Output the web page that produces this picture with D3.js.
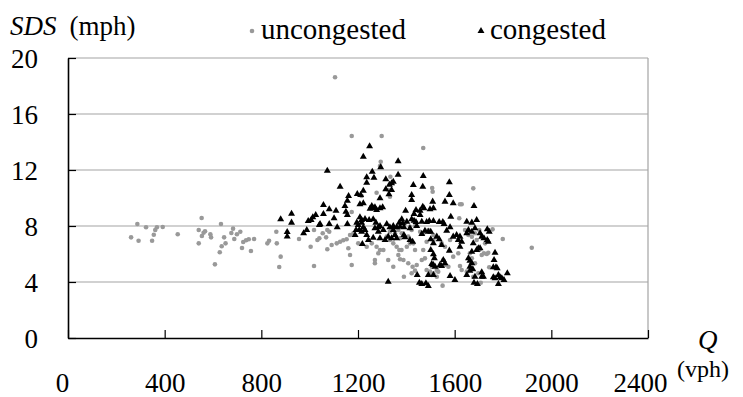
<!DOCTYPE html>
<html>
<head>
<meta charset="utf-8">
<script src="https://cdn.jsdelivr.net/npm/d3@7"></script>
<style>
  html, body { margin: 0; padding: 0; background: #fff; }
</style>
</head>
<body>
<svg id="chart" width="743" height="397"></svg>
<script>
// Flow Q (vph) vs. standard deviation of speed SDS (mph)
const uncongested = [
  [261,7.19],[287,8.14],[292,6.95],[323,7.91],[348,6.95],[355,7.38],[361,7.71],[368,7.91],[392,7.93],[454,7.41],
  [541,7.71],[541,6.76],[553,8.57],[554,7.29],[561,7.52],[567,7.62],[589,7.41],[592,7.19],[608,5.26],[628,6.12],
  [633,8.14],[636,6.55],[646,7.19],[652,6.76],[676,7.5],[683,7.81],[688,7.07],[699,7.41],[713,7.59],[720,6.43],
  [725,6.86],[737,6.98],[748,7.05],[757,6.21],[770,7.07],[825,6.76],[832,6.95],[862,7.59],[864,6.76],[880,5.81],
  [874,5.07],[956,7.07],[1004,6.52],[1018,7.71],[1018,5.14],[1032,7.0],[1040,7.12],[1054,7.48],[1068,7.19],[1073,7.71],
  [1081,7.59],[1073,6.34],[1091,6.64],[1112,6.76],[1126,6.88],[1139,6.98],[1153,7.05],[1167,7.36],[1181,7.48],[1160,6.41],
  [1167,5.93],[1174,5.21],[1174,9.0],[1105,18.62],[1174,14.43],[1298,14.43],[1470,13.57],[1294,12.59],[1291,12.29],[1334,11.52],
  [1507,10.71],[1677,10.69],[1277,10.38],[1215,10.14],[1325,10.57],[1332,10.09],[1509,10.45],[1622,9.55],[1629,9.55],[1619,8.55],
  [1201,6.76],[1236,6.52],[1257,6.76],[1277,6.52],[1291,6.29],[1270,5.57],[1270,5.34],[1284,6.05],[1305,6.29],[1319,7.24],
  [1332,7.59],[1339,7.76],[1353,7.48],[1367,7.71],[1374,7.12],[1332,7.0],[1346,6.76],[1360,6.52],[1371,6.29],[1325,5.57],
  [1346,5.09],[1367,5.93],[1374,5.62],[1394,8.19],[1415,7.95],[1422,7.71],[1436,8.0],[1381,7.48],[1408,7.24],[1422,6.88],
  [1429,6.76],[1457,7.59],[1470,7.48],[1491,7.71],[1512,7.36],[1380,6.29],[1402,6.52],[1415,6.76],[1436,6.29],[1470,6.29],
  [1484,6.88],[1512,7.0],[1546,6.76],[1560,6.52],[1581,7.0],[1388,5.57],[1408,5.34],[1426,5.09],[1443,5.21],[1464,5.57],
  [1477,5.69],[1484,4.86],[1498,4.74],[1505,5.09],[1526,4.86],[1532,4.74],[1553,5.57],[1560,5.21],[1574,5.09],[1594,5.81],
  [1615,6.05],[1622,5.14],[1629,4.86],[1650,4.74],[1663,6.05],[1671,5.69],[1684,5.34],[1691,7.0],[1702,6.29],[1657,7.36],
  [1671,7.24],[1684,7.48],[1702,7.71],[1643,7.71],[1390,4.38],[1422,4.62],[1436,4.81],[1505,4.5],[1512,4.62],[1526,4.38],
  [1550,3.74],[1677,4.38],[1698,4.62],[1757,7.76],[1799,7.07],[1919,6.45],[1726,6.76],[1712,5.93],[1721,6.05],[1733,6.0],
  [1739,6.09],[1743,5.05],[1708,3.95]
];

const congested = [
  [880,8.48],[925,8.88],[925,8.24],[907,7.57],[907,7.25],[975,7.48],[988,7.71],[994,8.36],[1006,8.43],[1013,8.62],
  [1025,8.79],[1040,8.07],[1248,13.69],[1222,12.95],[1073,11.95],[1294,12.19],[1259,11.88],[1236,11.48],[1266,11.45],[1236,11.09],
  [1330,10.95],[1339,11.05],[1346,11.16],[1366,11.66],[1366,12.62],[1126,10.81],[1222,10.52],[1339,10.57],[1197,10.29],[1211,10.21],
  [1161,10.14],[1156,9.81],[1291,9.98],[1057,9.5],[1081,9.19],[1109,9.09],[1146,9.43],[1208,9.55],[1222,9.62],[1257,9.43],
  [1270,9.34],[1250,9.24],[1263,9.26],[1277,9.14],[1291,9.26],[1302,9.34],[1057,8.86],[1101,8.55],[1150,9.02],[1156,8.79],
  [1208,8.62],[1215,8.43],[1229,8.5],[1246,8.43],[1043,8.14],[1081,8.14],[1114,7.91],[1156,8.14],[1195,8.24],[1201,8.07],
  [1215,8.24],[1222,7.91],[1263,8.48],[1274,8.24],[1284,7.91],[1291,8.0],[1319,8.14],[1332,7.91],[1346,8.0],[1360,7.91],
  [1371,8.24],[1192,7.71],[1205,7.71],[1215,7.59],[1229,7.71],[1188,7.36],[1236,7.36],[1270,7.84],[1284,7.59],[1305,7.71],
  [1325,7.24],[1346,7.71],[1353,7.36],[1243,7.0],[1263,7.16],[1291,7.12],[1312,7.0],[1339,7.12],[1360,7.12],[1218,6.71],
  [1325,4.02],[1315,11.34],[1315,10.62],[1328,10.26],[1470,11.57],[1429,10.93],[1468,10.81],[1578,11.12],[1422,10.21],[1422,9.86],
  [1578,10.21],[1509,9.74],[1560,9.74],[1594,9.62],[1468,9.38],[1473,9.26],[1498,9.19],[1512,9.26],[1397,9.09],[1440,9.14],
  [1457,9.09],[1680,9.43],[1432,8.86],[1457,8.79],[1422,8.48],[1432,8.38],[1584,8.66],[1381,8.48],[1385,8.19],[1402,8.31],
  [1440,8.29],[1464,8.31],[1484,8.29],[1495,8.36],[1512,8.36],[1536,8.29],[1551,8.29],[1556,8.14],[1650,8.31],[1671,8.24],
  [1691,8.43],[1374,7.95],[1390,7.91],[1415,7.84],[1443,8.0],[1464,7.43],[1477,7.66],[1491,7.59],[1501,7.59],[1567,7.66],
  [1581,7.91],[1594,7.24],[1608,7.36],[1622,7.24],[1615,7.0],[1650,7.48],[1657,7.71],[1671,7.59],[1684,7.84],[1390,7.36],
  [1394,7.19],[1415,7.0],[1426,6.88],[1526,7.24],[1536,7.05],[1501,7.05],[1512,6.76],[1546,6.64],[1629,6.88],[1622,6.52],
  [1677,6.76],[1698,6.41],[1501,6.29],[1578,6.24],[1671,6.16],[1691,6.29],[1512,5.98],[1516,5.69],[1553,5.57],[1560,5.34],
  [1505,5.29],[1512,5.21],[1519,5.09],[1539,5.21],[1546,5.14],[1657,5.69],[1663,5.52],[1671,5.34],[1663,5.09],[1675,4.91],
  [1684,4.38],[1445,4.5],[1491,4.5],[1512,4.5],[1581,4.43],[1601,4.14],[1650,4.5],[1663,4.81],[1454,3.95],[1464,3.86],
  [1481,3.91],[1491,3.71],[1680,3.95],[1694,3.86],[1735,7.76],[1743,7.59],[1705,7.48],[1712,7.24],[1721,7.12],[1735,7.0],
  [1739,6.88],[1705,6.41],[1767,6.09],[1763,5.57],[1760,5.05],[1771,5.05],[1776,4.98],[1712,4.69],[1712,4.38],[1719,4.38],
  [1760,4.34],[1767,4.26],[1781,4.5],[1788,4.34],[1795,4.26],[1804,4.14],[1818,4.62],[1781,3.86]
];

const xTicks = [0, 400, 800, 1200, 1600, 2000, 2400];
const yTicks = [0, 4, 8, 12, 16, 20];
const seriesNames = ["uncongested", "congested"];

const W = 743, H = 397;
const margin = { top: 58, right: 95, bottom: 59, left: 68 };
const iw = W - margin.left - margin.right;
const ih = H - margin.top - margin.bottom;
const FS = 27;
const FONT = '"Liberation Serif"';

const svg = d3.select("#chart");
const g = svg.append("g").attr("transform", `translate(${margin.left},${margin.top})`);

const x = d3.scaleLinear().domain([0, 2400]).range([0, iw]);
const y = d3.scaleLinear().domain([0, 20]).range([ih, 0]);

// horizontal gridlines
g.append("g").selectAll("line")
  .data(yTicks.filter(d => d > 0))
  .join("line")
  .attr("x1", 0).attr("x2", iw)
  .attr("y1", d => y(d)).attr("y2", d => y(d))
  .attr("stroke", "#a3a3a3").attr("stroke-width", 1.2);

// right border
g.append("line")
  .attr("x1", iw).attr("x2", iw).attr("y1", 0).attr("y2", ih)
  .attr("stroke", "#a3a3a3").attr("stroke-width", 1.2);

// uncongested points
g.append("g").selectAll("circle")
  .data(uncongested)
  .join("circle")
  .attr("cx", d => x(d[0])).attr("cy", d => y(d[1]))
  .attr("r", 2.3)
  .attr("fill", "#999");

// congested points
const tri = d3.symbol().type(d3.symbolTriangle).size(21);
g.append("g").selectAll("path")
  .data(congested)
  .join("path")
  .attr("transform", d => `translate(${x(d[0])},${y(d[1])})`)
  .attr("d", tri)
  .attr("fill", "#000");

// y axis, ticks pointing inward
const yAxis = g.append("g")
  .call(d3.axisLeft(y).tickValues(yTicks).tickFormat(d3.format("d"))
    .tickSize(-8).tickPadding(30).tickSizeOuter(0));
yAxis.select(".domain").attr("stroke", "#000").attr("stroke-width", 1.6);
yAxis.selectAll(".tick line").attr("stroke", "#000").attr("stroke-width", 1.2);
yAxis.selectAll(".tick text")
  .style("font-family", FONT).style("font-size", FS + "px")
  .attr("dy", "0.34em");

// x axis, ticks pointing inward
const xAxis = g.append("g")
  .attr("transform", `translate(0,${ih})`)
  .call(d3.axisBottom(x).tickValues(xTicks).tickFormat(d3.format("d"))
    .tickSize(-8).tickPadding(35).tickSizeOuter(0));
xAxis.select(".domain").attr("stroke", "#000").attr("stroke-width", 1.6);
xAxis.selectAll(".tick line").attr("stroke", "#000").attr("stroke-width", 1.2);
xAxis.selectAll(".tick text")
  .style("font-family", FONT).style("font-size", FS + "px")
  .attr("dx", d => d === 0 ? -6 : d === 2400 ? -8 : 0);

// axis titles
const yTitle = svg.append("text").attr("x", 10).attr("y", 35)
  .style("font-family", FONT).style("font-size", FS + "px");
yTitle.append("tspan").style("font-style", "italic").text("SDS");
yTitle.append("tspan").attr("dx", 13).text("(mph)");

svg.append("text").attr("x", 698).attr("y", 349)
  .style("font-family", FONT).style("font-size", FS + "px").style("font-style", "italic").text("Q");
svg.append("text").attr("x", 677).attr("y", 377)
  .style("font-family", FONT).style("font-size", "24px").text("(vph)");

// legend
const LFS = 29;
const legend = svg.append("g");
legend.append("circle").attr("cx", 252).attr("cy", 31).attr("r", 2.3).attr("fill", "#999");
legend.append("text").attr("x", 261).attr("y", 39)
  .style("font-family", FONT).style("font-size", LFS + "px").text(seriesNames[0]);
legend.append("path").attr("transform", "translate(481,31)").attr("d", tri).attr("fill", "#000");
legend.append("text").attr("x", 490).attr("y", 39)
  .style("font-family", FONT).style("font-size", LFS + "px").text(seriesNames[1]);
</script>
</body>
</html>
